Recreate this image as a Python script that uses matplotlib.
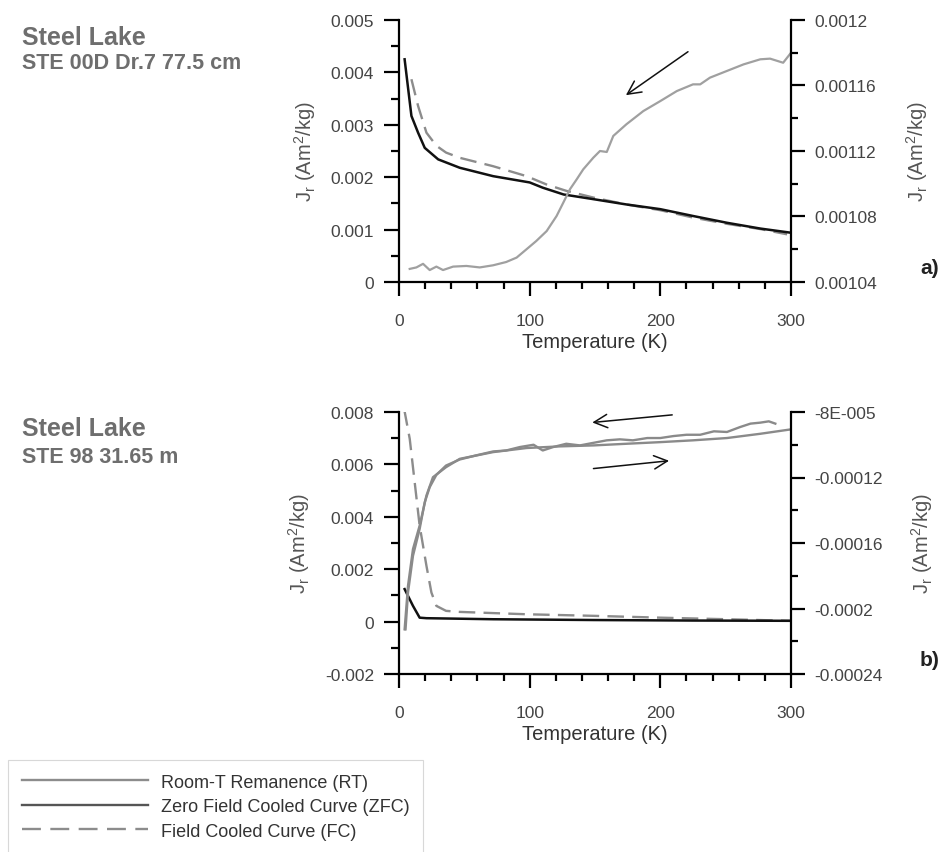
import matplotlib
matplotlib.use('Agg')
import matplotlib.pyplot as plt
from matplotlib.lines import Line2D
from matplotlib.ticker import MultipleLocator

plt.rcParams['font.family'] = ['Liberation Sans', 'DejaVu Sans']

# ---- panel a) STE 00D Dr.7 77.5 cm ----
a_zfc_T = [4.3, 9.5, 14.6, 19.7, 30, 46.5, 72, 100, 110, 126, 149, 174, 200, 225, 251, 276.5, 300]
a_zfc_J = [4.25e-3, 3.17e-3, 2.85e-3, 2.56e-3, 2.34e-3, 2.18e-3, 2.02e-3, 1.90e-3, 1.80e-3,
           1.67e-3, 1.58e-3, 1.48e-3, 1.39e-3, 1.26e-3, 1.13e-3, 1.02e-3, 0.94e-3]
a_fc_T = [9.5, 14.6, 21, 28.6, 36, 46.5, 72, 97.6, 113, 128, 149, 174, 200, 225, 251, 276.5, 297]
a_fc_J = [3.87e-3, 3.36e-3, 2.85e-3, 2.60e-3, 2.47e-3, 2.37e-3, 2.21e-3, 2.02e-3, 1.86e-3,
          1.74e-3, 1.61e-3, 1.48e-3, 1.37e-3, 1.23e-3, 1.11e-3, 1.01e-3, 0.91e-3]
a_rt_T = [8.2, 13.3, 18.4, 23.5, 28.6, 33.7, 41.4, 51.6, 61.8, 72, 82, 90, 97.6, 105, 113,
          120.6, 125.7, 130.8, 136, 141, 148.7, 153.8, 159, 164, 174, 187, 200, 212.6, 225,
          230.5, 238, 251, 263.7, 276.5, 284, 294, 300]
a_rt_J = [1.0480e-3, 1.0489e-3, 1.0511e-3, 1.0473e-3, 1.0494e-3, 1.0473e-3, 1.0494e-3, 1.0498e-3,
          1.0489e-3, 1.0502e-3, 1.0522e-3, 1.0549e-3, 1.0600e-3, 1.0650e-3, 1.0711e-3, 1.0803e-3,
          1.0884e-3, 1.0966e-3, 1.1027e-3, 1.1088e-3, 1.1159e-3, 1.1200e-3, 1.1194e-3, 1.1292e-3,
          1.1363e-3, 1.1444e-3, 1.1505e-3, 1.1566e-3, 1.1607e-3, 1.1607e-3, 1.1648e-3, 1.1689e-3,
          1.1729e-3, 1.1760e-3, 1.1764e-3, 1.1739e-3, 1.1800e-3]

# ---- panel b) STE 98 31.65 m ----
b_zfc_T = [4.3, 10.7, 15.8, 21, 72, 149, 225, 300]
b_zfc_J = [1.24e-3, 0.60e-3, 0.15e-3, 0.13e-3, 0.09e-3, 0.06e-3, 0.04e-3, 0.03e-3]
b_fc_T = [4.0, 8.2, 12, 15.8, 21, 24.8, 28.6, 36, 46.5, 97.6, 149, 200, 251, 300]
b_fc_J = [8.1e-3, 6.98e-3, 5.32e-3, 3.66e-3, 2.13e-3, 1.11e-3, 0.60e-3, 0.41e-3, 0.37e-3,
          0.28e-3, 0.22e-3, 0.15e-3, 0.09e-3, 0.03e-3]
b_rt_up_T = [4.3, 6.9, 10.7, 15.8, 21, 26, 36, 46.5, 72, 97.6, 123, 149, 174, 200, 225, 251, 276.5, 300]
b_rt_up_J = [-2.127e-4, -1.861e-4, -1.637e-4, -1.494e-4, -1.310e-4, -1.198e-4, -1.137e-4, -1.086e-4,
             -1.045e-4, -1.020e-4, -1.010e-4, -1.004e-4, -0.994e-4, -0.984e-4, -0.973e-4, -0.959e-4,
             -0.933e-4, -0.906e-4]
b_rt_dn_T = [288, 283, 276.5, 269, 261, 251, 241, 230.5, 220, 210, 200, 190, 179, 169, 159, 149,
             138.5, 128, 118, 110, 103, 92.5, 82, 72, 59, 46.5, 36, 28.6, 23.5, 19.7, 15.8, 10.7, 6.9, 5]
b_rt_dn_J = [-0.871e-4, -0.857e-4, -0.865e-4, -0.871e-4, -0.892e-4, -0.922e-4, -0.918e-4, -0.939e-4,
             -0.939e-4, -0.947e-4, -0.959e-4, -0.959e-4, -0.973e-4, -0.967e-4, -0.973e-4, -0.988e-4,
             -1.004e-4, -0.994e-4, -1.014e-4, -1.035e-4, -1.000e-4, -1.014e-4, -1.035e-4, -1.041e-4,
             -1.065e-4, -1.090e-4, -1.127e-4, -1.184e-4, -1.259e-4, -1.351e-4, -1.514e-4, -1.678e-4,
             -1.902e-4, -2.127e-4]

a_left_ticks = [0, 0.001, 0.002, 0.003, 0.004, 0.005]
a_left_labels = ['0', '0.001', '0.002', '0.003', '0.004', '0.005']
a_right_ticks = [0.00104, 0.00108, 0.00112, 0.00116, 0.0012]
a_right_labels = ['0.00104', '0.00108', '0.00112', '0.00116', '0.0012']
b_left_ticks = [-0.002, 0, 0.002, 0.004, 0.006, 0.008]
b_left_labels = ['-0.002', '0', '0.002', '0.004', '0.006', '0.008']
b_right_ticks = [-0.00024, -0.0002, -0.00016, -0.00012, -0.00008]
b_right_labels = ['-0.00024', '-0.0002', '-0.00016', '-0.00012', '-8E-005']

legend_labels = ['Room-T Remanence (RT)', 'Zero Field Cooled Curve (ZFC)', 'Field Cooled Curve (FC)']

W, H = 943, 853
fig = plt.figure(figsize=(W / 100, H / 100), dpi=100)

tick_col = '#444444'
lab_col = '#555555'
ylab = r'J$_\mathregular{r}$ (Am$^\mathregular{2}$/kg)'


def setup(ax, tw, ylim, yr, lt, ll, rt, rl, lminor, rminor):
    ax.set_xlim(0, 300)
    ax.set_ylim(*ylim)
    tw.set_ylim(*yr)
    ax.set_xticks([0, 100, 200, 300])
    ax.xaxis.set_minor_locator(MultipleLocator(20))
    ax.set_yticks(lt, labels=ll)
    ax.yaxis.set_minor_locator(MultipleLocator(lminor))
    tw.set_yticks(rt, labels=rl)
    tw.yaxis.set_minor_locator(MultipleLocator(rminor))
    for a in (ax, tw):
        a.spines['top'].set_visible(False)
        for s in a.spines.values():
            s.set_linewidth(1.6)
    ax.spines['right'].set_visible(False)
    tw.spines['left'].set_visible(False)
    tw.spines['bottom'].set_visible(False)
    ax.tick_params(axis='y', which='major', direction='out', length=11, width=1.6,
                   pad=7, labelsize=12.5, labelcolor=tick_col)
    ax.tick_params(axis='y', which='minor', direction='out', length=5.5, width=1.6)
    ax.tick_params(axis='x', which='major', direction='out', length=10, width=1.6,
                   pad=12, labelsize=12.5, labelcolor=tick_col)
    ax.tick_params(axis='x', which='minor', direction='out', length=5, width=1.6)
    tw.tick_params(axis='y', which='major', direction='out', length=10, width=1.6,
                   pad=7, labelsize=12.5, labelcolor=tick_col)
    tw.tick_params(axis='y', which='minor', direction='out', length=5, width=1.6)
    ax.set_xlabel('Temperature (K)', fontsize=14.5, color='#333333', labelpad=3)
    ax.set_ylabel(ylab, fontsize=14.5, color=lab_col, labelpad=9)
    tw.set_ylabel(ylab, fontsize=14.5, color=lab_col, labelpad=19)


# panel a
axA = fig.add_axes([399 / W, 1 - 283 / H, 392 / W, 262 / H])
twA = axA.twinx()
setup(axA, twA, (0, 0.005), (0.00104, 0.0012), a_left_ticks, a_left_labels,
      a_right_ticks, a_right_labels, 0.0005, 0.00002)
axA.plot(a_fc_T, a_fc_J, color='#8c8c8c', lw=1.7, ls=(0, (7, 3.5)))
axA.plot(a_zfc_T, a_zfc_J, color='#111111', lw=1.8)
twA.plot(a_rt_T, a_rt_J, color='#a0a0a0', lw=1.6)
axA.annotate('', xy=(0.573, 0.707), xytext=(0.743, 0.885), xycoords='axes fraction',
             arrowprops=dict(arrowstyle='->', color='#111111', lw=1.1, mutation_scale=24))

# panel b
axB = fig.add_axes([399 / W, 1 - 675 / H, 392 / W, 262 / H])
twB = axB.twinx()
setup(axB, twB, (-0.002, 0.008), (-0.00024, -0.00008), b_left_ticks, b_left_labels,
      b_right_ticks, b_right_labels, 0.001, 0.00002)
axB.plot(b_fc_T, b_fc_J, color='#8c8c8c', lw=1.7, ls=(0, (7, 3.5)), clip_on=True)
axB.plot(b_zfc_T, b_zfc_J, color='#111111', lw=1.8)
twB.plot(b_rt_up_T, b_rt_up_J, color='#8a8a8a', lw=1.7)
twB.plot(b_rt_dn_T, b_rt_dn_J, color='#8a8a8a', lw=1.7)
axB.annotate('', xy=(0.486, 0.959), xytext=(0.704, 0.990), xycoords='axes fraction',
             arrowprops=dict(arrowstyle='->', color='#111111', lw=1.1, mutation_scale=24))
axB.annotate('', xy=(0.696, 0.815), xytext=(0.489, 0.783), xycoords='axes fraction',
             arrowprops=dict(arrowstyle='->', color='#111111', lw=1.1, mutation_scale=24))

# sample titles
title_col = '#6e6e6e'
fig.text(22 / W, 1 - 45 / H, 'Steel Lake', fontsize=18, fontweight='bold', color=title_col, va='baseline')
fig.text(22 / W, 1 - 69 / H, 'STE 00D Dr.7 77.5 cm', fontsize=15.5, fontweight='bold', color=title_col, va='baseline')
fig.text(22 / W, 1 - 436 / H, 'Steel Lake', fontsize=18, fontweight='bold', color=title_col, va='baseline')
fig.text(22 / W, 1 - 463 / H, 'STE 98 31.65 m', fontsize=15.5, fontweight='bold', color=title_col, va='baseline')

fig.text(939 / W, 1 - 268 / H, 'a)', fontsize=15, fontweight='bold', color='#222222', va='center', ha='right')
fig.text(939 / W, 1 - 660 / H, 'b)', fontsize=15, fontweight='bold', color='#222222', va='center', ha='right')

handles = [Line2D([], [], color='#8c8c8c', lw=1.7),
           Line2D([], [], color='#555555', lw=1.7),
           Line2D([], [], color='#8c8c8c', lw=1.7, ls=(0, (8, 4)))]
leg = fig.legend(handles, legend_labels, loc='upper left', bbox_to_anchor=(8 / W, 1 - 761 / H),
                 frameon=True, fancybox=False, edgecolor='#d8d8d8', framealpha=1,
                 fontsize=13, handlelength=7.0, handletextpad=0.7, borderpad=0.75,
                 labelspacing=0.42, borderaxespad=0)
leg.get_frame().set_linewidth(0.8)
for t in leg.get_texts():
    t.set_color('#333333')

fig.savefig('out.png', dpi=100)
